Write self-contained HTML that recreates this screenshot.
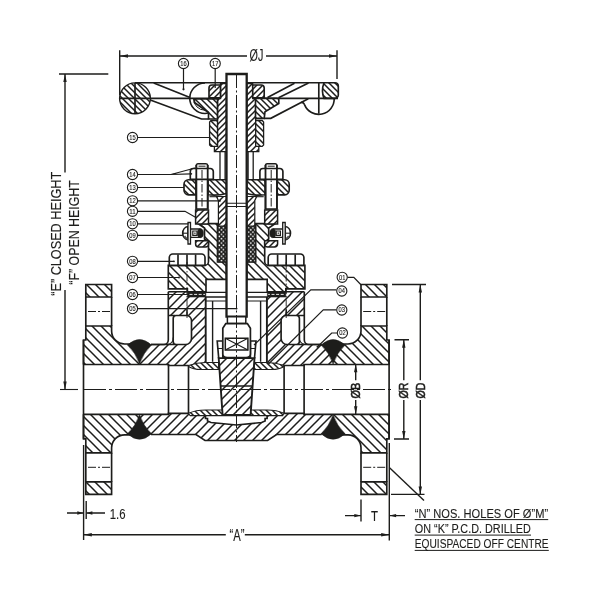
<!DOCTYPE html>
<html><head><meta charset="utf-8"><title>Gate valve</title>
<style>html,body{margin:0;padding:0;background:#fff}svg{display:block}text{font-family:"Liberation Sans",sans-serif;fill:#1d1d1b;stroke:#1d1d1b;stroke-width:0.12px}</style>
</head><body>
<svg width="600" height="600" viewBox="0 0 600 600" style="will-change:transform">
<rect width="600" height="600" fill="#fff"/>

<defs>
<pattern id="hA" patternUnits="userSpaceOnUse" width="9" height="9"><path d="M-2,11 L11,-2 M-2,2 L2,-2 M7,11 L11,7" stroke="#1d1d1b" stroke-width="1.5" fill="none"/></pattern>
<pattern id="hB" patternUnits="userSpaceOnUse" width="9" height="9"><path d="M-2,-2 L11,11 M-2,7 L2,11 M7,-2 L11,2" stroke="#1d1d1b" stroke-width="1.5" fill="none"/></pattern>
<pattern id="hA2" patternUnits="userSpaceOnUse" width="6" height="6"><path d="M-1,7 L7,-1 M-1,1 L1,-1 M5,7 L7,5" stroke="#1d1d1b" stroke-width="1.5" fill="none"/></pattern>
<pattern id="hB2" patternUnits="userSpaceOnUse" width="6" height="6"><path d="M-1,-1 L7,7 M-1,5 L1,7 M5,-1 L7,1" stroke="#1d1d1b" stroke-width="1.5" fill="none"/></pattern>
<pattern id="hB3" patternUnits="userSpaceOnUse" width="8" height="8"><path d="M-2,-2 L10,10 M-2,6 L2,10 M6,-2 L10,2" stroke="#1d1d1b" stroke-width="1.5" fill="none"/></pattern>
<pattern id="hA3" patternUnits="userSpaceOnUse" width="8" height="8"><path d="M-2,10 L10,-2 M-2,2 L2,-2 M6,10 L10,6" stroke="#1d1d1b" stroke-width="1.35" fill="none"/></pattern>
<pattern id="hB5" patternUnits="userSpaceOnUse" width="6" height="6"><path d="M-1,-1 L7,7 M-1,5 L1,7 M5,-1 L7,1" stroke="#1d1d1b" stroke-width="1.5" fill="none"/></pattern>
<pattern id="pk" patternUnits="userSpaceOnUse" width="4.2" height="4.4" patternTransform="translate(217.4 226.6)"><rect width="4.2" height="4.4" fill="#1d1d1b"/><circle cx="1.9" cy="1.1" r="0.85" fill="#fff"/><circle cx="4" cy="3.3" r="0.85" fill="#fff"/><circle cx="-0.2" cy="3.3" r="0.85" fill="#fff"/></pattern>
</defs>
<path d="M85.8,284.5 H111.6 V297 H85.8 Z" fill="#fff" stroke="none" stroke-width="1.65" />
<path d="M85.8,284.5 H111.6 V297 H85.8 Z" fill="url(#hB)" stroke="#1d1d1b" stroke-width="1.65" />
<path d="M 85.8 494.3 H 111.6 V 481.8 H 85.8 Z" fill="#fff" stroke="none" stroke-width="1.65" />
<path d="M 85.8 494.3 H 111.6 V 481.8 H 85.8 Z" fill="url(#hB)" stroke="#1d1d1b" stroke-width="1.65" />
<path d="M 386.8 284.5 H 361 V 297 H 386.8 Z" fill="#fff" stroke="none" stroke-width="1.65" />
<path d="M 386.8 284.5 H 361 V 297 H 386.8 Z" fill="url(#hB)" stroke="#1d1d1b" stroke-width="1.65" />
<path d="M 386.8 494.3 H 361 V 481.8 H 386.8 Z" fill="#fff" stroke="none" stroke-width="1.65" />
<path d="M 386.8 494.3 H 361 V 481.8 H 386.8 Z" fill="url(#hB)" stroke="#1d1d1b" stroke-width="1.65" />
<path d="M85.8,297 V326 M111.6,297 V326" fill="none" stroke="#1d1d1b" stroke-width="1.65" />
<path d="M 85.8 481.8 V 452.8 M 111.6 481.8 V 452.8" fill="none" stroke="#1d1d1b" stroke-width="1.65" />
<path d="M 386.8 297 V 326 M 361 297 V 326" fill="none" stroke="#1d1d1b" stroke-width="1.65" />
<path d="M 386.8 481.8 V 452.8 M 361 481.8 V 452.8" fill="none" stroke="#1d1d1b" stroke-width="1.65" />
<path d="M85.8,326 H111.6 V331 A13,13 0 0 0 124.6,344 H139.5 V364.5 H83.5 V340 H85.8 Z" fill="#fff" stroke="none" stroke-width="1.65" />
<path d="M85.8,326 H111.6 V331 A13,13 0 0 0 124.6,344 H139.5 V364.5 H83.5 V340 H85.8 Z" fill="url(#hB)" stroke="none" stroke-width="1.65" />
<path d="M 85.8 452.8 H 111.6 V 447.8 A 13 13 0 0 1 124.6 434.8 H 139.5 V 414.3 H 83.5 V 438.8 H 85.8 Z" fill="#fff" stroke="none" stroke-width="1.65" />
<path d="M 85.8 452.8 H 111.6 V 447.8 A 13 13 0 0 1 124.6 434.8 H 139.5 V 414.3 H 83.5 V 438.8 H 85.8 Z" fill="url(#hB)" stroke="none" stroke-width="1.65" />
<path d="M 386.8 326 H 361 V 331 A 13 13 0 0 1 348 344 H 333.1 V 364.5 H 389.1 V 340 H 386.8 Z" fill="#fff" stroke="none" stroke-width="1.65" />
<path d="M 386.8 326 H 361 V 331 A 13 13 0 0 1 348 344 H 333.1 V 364.5 H 389.1 V 340 H 386.8 Z" fill="url(#hB)" stroke="none" stroke-width="1.65" />
<path d="M 386.8 452.8 H 361 V 447.8 A 13 13 0 0 0 348 434.8 H 333.1 V 414.3 H 389.1 V 438.8 H 386.8 Z" fill="#fff" stroke="none" stroke-width="1.65" />
<path d="M 386.8 452.8 H 361 V 447.8 A 13 13 0 0 0 348 434.8 H 333.1 V 414.3 H 389.1 V 438.8 H 386.8 Z" fill="url(#hB)" stroke="none" stroke-width="1.65" />
<path d="M83.5,364.5 V340 H85.8 V326 H111.6 V331 A13,13 0 0 0 124.6,344 H139.5" fill="none" stroke="#1d1d1b" stroke-width="1.65" />
<path d="M 83.5 414.3 V 438.8 H 85.8 V 452.8 H 111.6 V 447.8 A 13 13 0 0 1 124.6 434.8 H 139.5" fill="none" stroke="#1d1d1b" stroke-width="1.65" />
<path d="M 389.1 364.5 V 340 H 386.8 V 326 H 361 V 331 A 13 13 0 0 1 348 344 H 333.1" fill="none" stroke="#1d1d1b" stroke-width="1.65" />
<path d="M 389.1 414.3 V 438.8 H 386.8 V 452.8 H 361 V 447.8 A 13 13 0 0 0 348 434.8 H 333.1" fill="none" stroke="#1d1d1b" stroke-width="1.65" />
<path d="M83.5,340 V438.8" fill="none" stroke="#1d1d1b" stroke-width="1.65" />
<path d="M 389.1 340 V 438.8" fill="none" stroke="#1d1d1b" stroke-width="1.65" />
<path d="M139.5,344.5 H185.5 A6,6 0 0 0 191.5,338.5 V320.5 A5,5 0 0 0 186.5,315.5 H168.3 V291.7 H187.4 V297 H205.5 V362.5 L188.5,365.5 H168.5 V364.5 H139.5 Z" fill="#fff" stroke="none" stroke-width="1.65" />
<path d="M139.5,344.5 H185.5 A6,6 0 0 0 191.5,338.5 V320.5 A5,5 0 0 0 186.5,315.5 H168.3 V291.7 H187.4 V297 H205.5 V362.5 L188.5,365.5 H168.5 V364.5 H139.5 Z" fill="url(#hA)" stroke="none" stroke-width="1.65" />
<path d="M 333.1 344.5 H 287.1 A 6 6 0 0 1 281.1 338.5 V 320.5 A 5 5 0 0 1 286.1 315.5 H 304.3 V 291.7 H 285.2 V 297 H 267.1 V 362.5 L 284.1 365.5 H 304.1 V 364.5 H 333.1 Z" fill="#fff" stroke="none" stroke-width="1.65" />
<path d="M 333.1 344.5 H 287.1 A 6 6 0 0 1 281.1 338.5 V 320.5 A 5 5 0 0 1 286.1 315.5 H 304.3 V 291.7 H 285.2 V 297 H 267.1 V 362.5 L 284.1 365.5 H 304.1 V 364.5 H 333.1 Z" fill="url(#hA)" stroke="none" stroke-width="1.65" />
<path d="M151,344.5 H185.5 A6,6 0 0 0 191.5,338.5 V320.5 A5,5 0 0 0 186.5,315.5 H176 A3,3 0 0 0 173.2,318.5 V341.5 A3,3 0 0 0 176.2,344.5" fill="none" stroke="#1d1d1b" stroke-width="1.65" />
<path d="M 321.6 344.5 H 287.1 A 6 6 0 0 1 281.1 338.5 V 320.5 A 5 5 0 0 1 286.1 315.5 H 296.6 A 3 3 0 0 1 299.4 318.5 V 341.5 A 3 3 0 0 1 296.4 344.5" fill="none" stroke="#1d1d1b" stroke-width="1.65" />
<path d="M168.3,291.7 V340 A4.5,4.5 0 0 1 163.8,344.5 H151" fill="none" stroke="#1d1d1b" stroke-width="1.65" />
<path d="M 304.3 291.7 V 340 A 4.5 4.5 0 0 0 308.8 344.5 H 321.6" fill="none" stroke="#1d1d1b" stroke-width="1.65" />
<path d="M173.2,337.5 A6,6 0 0 1 168,344.3" fill="none" stroke="#1d1d1b" stroke-width="1.2" />
<path d="M 299.4 337.5 A 6 6 0 0 0 304.6 344.3" fill="none" stroke="#1d1d1b" stroke-width="1.2" />
<path d="M168.3,315.5 H175 M168.3,291.7 H187.4" fill="none" stroke="#1d1d1b" stroke-width="1.65" />
<path d="M 304.3 315.5 H 297.6 M 304.3 291.7 H 285.2" fill="none" stroke="#1d1d1b" stroke-width="1.65" />
<path d="M205.7,297 V362.5" fill="none" stroke="#1d1d1b" stroke-width="1.9" />
<path d="M 266.9 297 V 362.5" fill="none" stroke="#1d1d1b" stroke-width="1.9" />
<path d="M139.5,414.3 H168.5 V413.3 H188.5 L190,415.5 H205.5 V418.5 H207.5 V421 L211,422.5 L236.4,425 V440.5 H205 L196,434.5 H139.5 Z" fill="#fff" stroke="none" stroke-width="1.65" />
<path d="M139.5,414.3 H168.5 V413.3 H188.5 L190,415.5 H205.5 V418.5 H207.5 V421 L211,422.5 L236.4,425 V440.5 H205 L196,434.5 H139.5 Z" fill="url(#hA)" stroke="none" stroke-width="1.65" />
<path d="M 333.1 414.3 H 304.1 V 413.3 H 284.1 L 282.6 415.5 H 267.1 V 418.5 H 265.1 V 421 L 261.6 422.5 L 236.2 425 V 440.5 H 267.6 L 276.6 434.5 H 333.1 Z" fill="#fff" stroke="none" stroke-width="1.65" />
<path d="M 333.1 414.3 H 304.1 V 413.3 H 284.1 L 282.6 415.5 H 267.1 V 418.5 H 265.1 V 421 L 261.6 422.5 L 236.2 425 V 440.5 H 267.6 L 276.6 434.5 H 333.1 Z" fill="url(#hA)" stroke="none" stroke-width="1.65" />
<path d="M151,434.5 H196 L205,440.5 H236.5" fill="none" stroke="#1d1d1b" stroke-width="1.65" />
<path d="M 321.6 434.5 H 276.6 L 267.6 440.5 H 236.1" fill="none" stroke="#1d1d1b" stroke-width="1.65" />
<path d="M205.5,415.5 V418.5 H207.5 V421 L211,422.5 L236.5,425" fill="none" stroke="#1d1d1b" stroke-width="1.65" />
<path d="M 267.1 415.5 V 418.5 H 265.1 V 421 L 261.6 422.5 L 236.1 425" fill="none" stroke="#1d1d1b" stroke-width="1.65" />
<path d="M190,415.5 H283.2" fill="none" stroke="#1d1d1b" stroke-width="1.7" />
<path d="M188.5,413.3 Q196,410 205.5,410 H222.6 V415.5 H190 Z" fill="#fff" stroke="none" stroke-width="1.65" />
<path d="M188.5,413.3 Q196,410 205.5,410 H222.6 V415.5 H190 Z" fill="url(#hB2)" stroke="#1d1d1b" stroke-width="1.1" />
<path d="M 284.1 413.3 Q 276.6 410 267.1 410 H 250 V 415.5 H 282.6 Z" fill="#fff" stroke="none" stroke-width="1.65" />
<path d="M 284.1 413.3 Q 276.6 410 267.1 410 H 250 V 415.5 H 282.6 Z" fill="url(#hB2)" stroke="#1d1d1b" stroke-width="1.1" />
<path d="M188.5,365.5 Q197,362.5 205.5,362.5 H218.6 V369.5 H201 Q193,369.5 188.5,366.5 Z" fill="#fff" stroke="none" stroke-width="1.65" />
<path d="M188.5,365.5 Q197,362.5 205.5,362.5 H218.6 V369.5 H201 Q193,369.5 188.5,366.5 Z" fill="url(#hB2)" stroke="#1d1d1b" stroke-width="1.1" />
<path d="M 284.1 365.5 Q 275.6 362.5 267.1 362.5 H 254 V 369.5 H 271.6 Q 279.6 369.5 284.1 366.5 Z" fill="#fff" stroke="none" stroke-width="1.65" />
<path d="M 284.1 365.5 Q 275.6 362.5 267.1 362.5 H 254 V 369.5 H 271.6 Q 279.6 369.5 284.1 366.5 Z" fill="url(#hB2)" stroke="#1d1d1b" stroke-width="1.1" />
<path d="M83.5,364.5 H168.5 V365.5 H188.5" fill="none" stroke="#1d1d1b" stroke-width="1.65" />
<path d="M 83.5 414.3 H 168.5 V 413.3 H 188.5" fill="none" stroke="#1d1d1b" stroke-width="1.65" />
<path d="M 389.1 364.5 H 304.1 V 365.5 H 284.1" fill="none" stroke="#1d1d1b" stroke-width="1.65" />
<path d="M 389.1 414.3 H 304.1 V 413.3 H 284.1" fill="none" stroke="#1d1d1b" stroke-width="1.65" />
<path d="M168.5,364.5 V414.3 M188.5,365.5 V413.3" fill="none" stroke="#1d1d1b" stroke-width="1.65" />
<path d="M 304.1 364.5 V 414.3 M 284.1 365.5 V 413.3" fill="none" stroke="#1d1d1b" stroke-width="1.65" />
<path d="M127.5,345 Q139.5,334 151.5,345 Q143.5,352.5 139.5,364 Q135.5,352.5 127.5,345 Z" fill="#1d1d1b" stroke="#1d1d1b" stroke-width="0.5" />
<path d="M 127.5 433.8 Q 139.5 444.8 151.5 433.8 Q 143.5 426.3 139.5 414.8 Q 135.5 426.3 127.5 433.8 Z" fill="#1d1d1b" stroke="#1d1d1b" stroke-width="0.5" />
<path d="M 345.1 345 Q 333.1 334 321.1 345 Q 329.1 352.5 333.1 364 Q 337.1 352.5 345.1 345 Z" fill="#1d1d1b" stroke="#1d1d1b" stroke-width="0.5" />
<path d="M 345.1 433.8 Q 333.1 444.8 321.1 433.8 Q 329.1 426.3 333.1 414.8 Q 337.1 426.3 345.1 433.8 Z" fill="#1d1d1b" stroke="#1d1d1b" stroke-width="0.5" />
<path d="M168.3,265.4 H204.5 A4,4 0 0 0 208.5,261.4 V242 L204.5,239 V228 L198,223.6 H217.5 V262 H226.5 V279.4 H206 V291.7 H187.4 V288.8 H168.3 Z" fill="#fff" stroke="none" stroke-width="1.65" />
<path d="M168.3,265.4 H204.5 A4,4 0 0 0 208.5,261.4 V242 L204.5,239 V228 L198,223.6 H217.5 V262 H226.5 V279.4 H206 V291.7 H187.4 V288.8 H168.3 Z" fill="url(#hB3)" stroke="#1d1d1b" stroke-width="1.65" />
<path d="M 304.9 265.4 H 268.7 A 4 4 0 0 1 264.7 261.4 V 242 L 268.7 239 V 228 L 275.2 223.6 H 255.7 V 262 H 246.7 V 279.4 H 267.2 V 291.7 H 285.8 V 288.8 H 304.9 Z" fill="#fff" stroke="none" stroke-width="1.65" />
<path d="M 304.9 265.4 H 268.7 A 4 4 0 0 1 264.7 261.4 V 242 L 268.7 239 V 228 L 275.2 223.6 H 255.7 V 262 H 246.7 V 279.4 H 267.2 V 291.7 H 285.8 V 288.8 H 304.9 Z" fill="url(#hB3)" stroke="#1d1d1b" stroke-width="1.65" />
<path d="M187.4,291.9 H205.8 V297 H187.4 Z" fill="#1d1d1b" stroke="#1d1d1b" stroke-width="0.6" />
<path d="M 285.8 291.9 H 267.4 V 297 H 285.8 Z" fill="#1d1d1b" stroke="#1d1d1b" stroke-width="0.6" />
<path d="M189.5,294.4 H205" fill="none" stroke="#fff" stroke-width="0.9" stroke-dasharray="3 1.6"/>
<path d="M 283.7 294.4 H 268.2" fill="none" stroke="#fff" stroke-width="0.9" stroke-dasharray="3 1.6"/>
<path d="M205.5,292.3 H267.7 M205.5,301 H267.7" fill="none" stroke="#1d1d1b" stroke-width="1.2" />
<path d="M205.5,297 H267.7" fill="none" stroke="#1d1d1b" stroke-width="1.7" />
<path d="M212.6,301 V361.8" fill="none" stroke="#1d1d1b" stroke-width="1.4" />
<path d="M 260.6 301 V 361.8" fill="none" stroke="#1d1d1b" stroke-width="1.4" />
<path d="M169.3,265.4 V257.5 A3.5,3.5 0 0 1 172.8,254 H201.5 A3.5,3.5 0 0 1 205,257.5 V265.4 Z" fill="#fff" stroke="#1d1d1b" stroke-width="1.65" />
<path d="M 303.9 265.4 V 257.5 A 3.5 3.5 0 0 0 300.4 254 H 271.7 A 3.5 3.5 0 0 0 268.2 257.5 V 265.4 Z" fill="#fff" stroke="#1d1d1b" stroke-width="1.65" />
<path d="M178,254.5 V265 M187,254.5 V265 M195.6,254.5 V265" fill="none" stroke="#1d1d1b" stroke-width="1.65" />
<path d="M 295.2 254.5 V 265 M 286.2 254.5 V 265 M 277.6 254.5 V 265" fill="none" stroke="#1d1d1b" stroke-width="1.65" />
<path d="M187,262 V318" fill="none" stroke="#1d1d1b" stroke-width="0.9" stroke-dasharray="7 2 1.5 2"/>
<path d="M 286.2 262 V 318" fill="none" stroke="#1d1d1b" stroke-width="0.9" stroke-dasharray="7 2 1.5 2"/>
<path d="M187,309.5 V315.5" fill="none" stroke="#1d1d1b" stroke-width="1.6" />
<path d="M 286.2 309.5 V 315.5" fill="none" stroke="#1d1d1b" stroke-width="1.6" />
<path d="M218.7,358 H254.5 L250.6,415 H222.6 Z" fill="#fff" stroke="none" stroke-width="1.65" />
<path d="M218.7,358 H254.5 L250.6,415 H222.6 Z" fill="url(#hA)" stroke="#1d1d1b" stroke-width="1.9" />
<path d="M217.2,341 H222.8 V358 H218.7 Z" fill="#fff" stroke="#1d1d1b" stroke-width="1.65" />
<path d="M 256 341 H 250.4 V 358 H 254.5 Z" fill="#fff" stroke="#1d1d1b" stroke-width="1.65" />
<path d="M217.8,348.5 H223" fill="none" stroke="#1d1d1b" stroke-width="1" />
<path d="M 255.4 348.5 H 250.2" fill="none" stroke="#1d1d1b" stroke-width="1" />
<path d="M220.6,386 H252.6" fill="none" stroke="#1d1d1b" stroke-width="1.65" />
<path d="M217.8,226 H226.5 V262 H217.8 Z" fill="url(#pk)" stroke="#1d1d1b" stroke-width="0.8" />
<path d="M 255.4 226 H 246.7 V 262 H 255.4 Z" fill="url(#pk)" stroke="#1d1d1b" stroke-width="0.8" />
<path d="M216.5,196.5 H226.5 V226 H218.4 V200.5 Z" fill="#fff" stroke="none" stroke-width="1.65" />
<path d="M216.5,196.5 H226.5 V226 H218.4 V200.5 Z" fill="url(#hA2)" stroke="#1d1d1b" stroke-width="1.2" />
<path d="M 256.7 196.5 H 246.7 V 226 H 254.8 V 200.5 Z" fill="#fff" stroke="none" stroke-width="1.65" />
<path d="M 256.7 196.5 H 246.7 V 226 H 254.8 V 200.5 Z" fill="url(#hA2)" stroke="#1d1d1b" stroke-width="1.2" />
<path d="M209.5,196.7 H218" fill="none" stroke="#1d1d1b" stroke-width="1.1" />
<path d="M 263.7 196.7 H 255.2" fill="none" stroke="#1d1d1b" stroke-width="1.1" />
<path d="M196,179.7 H188.5 A4.5,4.5 0 0 0 184,184.2 V190.3 A4.5,4.5 0 0 0 188.5,194.8 H196 Z" fill="#fff" stroke="none" stroke-width="1.65" />
<path d="M196,179.7 H188.5 A4.5,4.5 0 0 0 184,184.2 V190.3 A4.5,4.5 0 0 0 188.5,194.8 H196 Z" fill="url(#hB2)" stroke="#1d1d1b" stroke-width="1.65" />
<path d="M 277.2 179.7 H 284.7 A 4.5 4.5 0 0 1 289.2 184.2 V 190.3 A 4.5 4.5 0 0 1 284.7 194.8 H 277.2 Z" fill="#fff" stroke="none" stroke-width="1.65" />
<path d="M 277.2 179.7 H 284.7 A 4.5 4.5 0 0 1 289.2 184.2 V 190.3 A 4.5 4.5 0 0 1 284.7 194.8 H 277.2 Z" fill="url(#hB2)" stroke="#1d1d1b" stroke-width="1.65" />
<path d="M208,179.7 H226.5 V193.5 Q218,196 208,194.8 Z" fill="#fff" stroke="none" stroke-width="1.65" />
<path d="M208,179.7 H226.5 V193.5 Q218,196 208,194.8 Z" fill="url(#hB2)" stroke="#1d1d1b" stroke-width="1.65" />
<path d="M 265.2 179.7 H 246.7 V 193.5 Q 255.2 196 265.2 194.8 Z" fill="#fff" stroke="none" stroke-width="1.65" />
<path d="M 265.2 179.7 H 246.7 V 193.5 Q 255.2 196 265.2 194.8 Z" fill="url(#hB2)" stroke="#1d1d1b" stroke-width="1.65" />
<path d="M196,179.7 H208 M196,194.8 H208" fill="none" stroke="#1d1d1b" stroke-width="1.65" />
<path d="M 277.2 179.7 H 265.2 M 277.2 194.8 H 265.2" fill="none" stroke="#1d1d1b" stroke-width="1.65" />
<path d="M196.3,209 V165.5 A1.7,1.7 0 0 1 198,163.8 H206 A1.7,1.7 0 0 1 207.7,165.5 V209 Z" fill="#fff" stroke="#1d1d1b" stroke-width="1.6" />
<path d="M 276.9 209 V 165.5 A 1.7 1.7 0 0 0 275.2 163.8 H 267.2 A 1.7 1.7 0 0 0 265.5 165.5 V 209 Z" fill="#fff" stroke="#1d1d1b" stroke-width="1.6" />
<path d="M190.3,179.4 V171.5 A3,3 0 0 1 193.3,168.5 H210.3 A3,3 0 0 1 213.3,171.5 V179.4 Z" fill="#fff" stroke="#1d1d1b" stroke-width="1.65" />
<path d="M 282.9 179.4 V 171.5 A 3 3 0 0 0 279.9 168.5 H 262.9 A 3 3 0 0 0 259.9 171.5 V 179.4 Z" fill="#fff" stroke="#1d1d1b" stroke-width="1.65" />
<path d="M196.3,165 V209 M207.7,165 V209" fill="none" stroke="#1d1d1b" stroke-width="1.8" />
<path d="M 276.9 165 V 209 M 265.5 165 V 209" fill="none" stroke="#1d1d1b" stroke-width="1.8" />
<path d="M198.5,166.2 H205.5" fill="none" stroke="#1d1d1b" stroke-width="1" />
<path d="M 274.7 166.2 H 267.7" fill="none" stroke="#1d1d1b" stroke-width="1" />
<path d="M202,170 V208" fill="none" stroke="#1d1d1b" stroke-width="1" stroke-dasharray="8.5 2 1.5 2"/>
<path d="M 271.2 170 V 208" fill="none" stroke="#1d1d1b" stroke-width="1" stroke-dasharray="8.5 2 1.5 2"/>
<path d="M195.6,210 H208.5 V224 H195.6 Z" fill="#fff" stroke="none" stroke-width="1.65" />
<path d="M195.6,210 H208.5 V224 H195.6 Z" fill="url(#hA2)" stroke="#1d1d1b" stroke-width="1.5" />
<path d="M 277.6 210 H 264.7 V 224 H 277.6 Z" fill="#fff" stroke="none" stroke-width="1.65" />
<path d="M 277.6 210 H 264.7 V 224 H 277.6 Z" fill="url(#hA2)" stroke="#1d1d1b" stroke-width="1.5" />
<path d="M195.6,240.7 H208.5 V244 A3,3 0 0 1 205.5,247 H198.6 A3,3 0 0 1 195.6,244 Z" fill="#fff" stroke="none" stroke-width="1.65" />
<path d="M195.6,240.7 H208.5 V244 A3,3 0 0 1 205.5,247 H198.6 A3,3 0 0 1 195.6,244 Z" fill="url(#hA2)" stroke="#1d1d1b" stroke-width="1.5" />
<path d="M 277.6 240.7 H 264.7 V 244 A 3 3 0 0 0 267.7 247 H 274.6 A 3 3 0 0 0 277.6 244 Z" fill="#fff" stroke="none" stroke-width="1.65" />
<path d="M 277.6 240.7 H 264.7 V 244 A 3 3 0 0 0 267.7 247 H 274.6 A 3 3 0 0 0 277.6 244 Z" fill="url(#hA2)" stroke="#1d1d1b" stroke-width="1.5" />
<path d="M190.5,229 H200 V237.4 H190.5 Z" fill="#fff" stroke="#1d1d1b" stroke-width="1.3" />
<path d="M 282.7 229 H 273.2 V 237.4 H 282.7 Z" fill="#fff" stroke="#1d1d1b" stroke-width="1.3" />
<path d="M197.4,233.2 A3,4.5 0 0 1 203.4,233.2 A3,4.5 0 0 1 197.4,233.2 Z" fill="#1d1d1b" stroke="#1d1d1b" stroke-width="0.5" />
<path d="M 275.8 233.2 A 3 4.5 0 0 0 269.8 233.2 A 3 4.5 0 0 0 275.8 233.2 Z" fill="#1d1d1b" stroke="#1d1d1b" stroke-width="0.5" />
<path d="M192.8,231 H197 V235.4 H192.8 Z" fill="#fff" stroke="#1d1d1b" stroke-width="1.2" />
<path d="M 280.4 231 H 276.2 V 235.4 H 280.4 Z" fill="#fff" stroke="#1d1d1b" stroke-width="1.2" />
<path d="M194.4,232.7 H195.4 V233.7 H194.4 Z" fill="#1d1d1b" stroke="#1d1d1b" stroke-width="0.3" />
<path d="M 278.8 232.7 H 277.8 V 233.7 H 278.8 Z" fill="#1d1d1b" stroke="#1d1d1b" stroke-width="0.3" />
<path d="M188,226.5 A6,6.7 0 0 0 188,239.8 Z" fill="#fff" stroke="#1d1d1b" stroke-width="1.7" />
<path d="M 285.2 226.5 A 6 6.7 0 0 1 285.2 239.8 Z" fill="#fff" stroke="#1d1d1b" stroke-width="1.7" />
<path d="M182.2,233.2 H188" fill="none" stroke="#1d1d1b" stroke-width="1.1" />
<path d="M 291 233.2 H 285.2" fill="none" stroke="#1d1d1b" stroke-width="1.1" />
<path d="M184.5,236 Q186,238.5 188,239" fill="none" stroke="#555" stroke-width="1.6" />
<path d="M 288.7 236 Q 287.2 238.5 285.2 239" fill="none" stroke="#555" stroke-width="1.6" />
<path d="M188,222.5 H190.5 V244 H188 Z" fill="#fff" stroke="#1d1d1b" stroke-width="1.3" />
<path d="M 285.2 222.5 H 282.7 V 244 H 285.2 Z" fill="#fff" stroke="#1d1d1b" stroke-width="1.3" />
<path d="M220.5,83.5 H226.5 V151.6 H214.4 V146.4 H217.5 V98.5 H220.5 Z" fill="#fff" stroke="none" stroke-width="1.65" />
<path d="M220.5,83.5 H226.5 V151.6 H214.4 V146.4 H217.5 V98.5 H220.5 Z" fill="url(#hA2)" stroke="#1d1d1b" stroke-width="1.3" />
<path d="M 252.7 83.5 H 246.7 V 151.6 H 258.8 V 146.4 H 255.7 V 98.5 H 252.7 Z" fill="#fff" stroke="none" stroke-width="1.65" />
<path d="M 252.7 83.5 H 246.7 V 151.6 H 258.8 V 146.4 H 255.7 V 98.5 H 252.7 Z" fill="url(#hA2)" stroke="#1d1d1b" stroke-width="1.3" />
<path d="M211,120.5 H217.5 V146.4 H211 L209.6,145 V122 Z" fill="#fff" stroke="none" stroke-width="1.65" />
<path d="M211,120.5 H217.5 V146.4 H211 L209.6,145 V122 Z" fill="url(#hB2)" stroke="#1d1d1b" stroke-width="1.3" />
<path d="M 262.2 120.5 H 255.7 V 146.4 H 262.2 L 263.6 145 V 122 Z" fill="#fff" stroke="none" stroke-width="1.65" />
<path d="M 262.2 120.5 H 255.7 V 146.4 H 262.2 L 263.6 145 V 122 Z" fill="url(#hB2)" stroke="#1d1d1b" stroke-width="1.3" />
<path d="M220,151.6 V180 M225.1,151.6 V180" fill="none" stroke="#1d1d1b" stroke-width="1.3" />
<path d="M 253.2 151.6 V 180 M 248.1 151.6 V 180" fill="none" stroke="#1d1d1b" stroke-width="1.3" />
<circle cx="135" cy="98.3" r="15.4" fill="#fff"/>
<circle cx="135" cy="98.3" r="15.4" fill="url(#hB5)" stroke="#1d1d1b" stroke-width="1.4"/>
<path d="M135,82.9 V113.7 M119.6,98.4 H218" fill="none" stroke="#1d1d1b" stroke-width="1.65" />
<path d="M135,82.7 H226.5 M246.7,82.7 H335" fill="none" stroke="#1d1d1b" stroke-width="1.65" />
<path d="M153.7,83 L190,97.5 M150.3,100 L201.5,119 H208.5" fill="none" stroke="#1d1d1b" stroke-width="1.65" />
<path d="M205,83 A15.2,15.2 0 0 0 205,113.5 L208.5,113" fill="none" stroke="#1d1d1b" stroke-width="1.65" />
<path d="M193.5,99 A11.5,11.5 0 0 0 205,110.2" fill="none" stroke="#1d1d1b" stroke-width="1" />
<path d="M220.5,85 H212 A3,3 0 0 0 209,88 V97.7 H220.5 Z" fill="#fff" stroke="none" stroke-width="1.65" />
<path d="M220.5,85 H212 A3,3 0 0 0 209,88 V97.7 H220.5 Z" fill="url(#hA2)" stroke="#1d1d1b" stroke-width="1.65" />
<path d="M 252.7 85 H 261.2 A 3 3 0 0 1 264.2 88 V 97.7 H 252.7 Z" fill="#fff" stroke="none" stroke-width="1.65" />
<path d="M 252.7 85 H 261.2 A 3 3 0 0 1 264.2 88 V 97.7 H 252.7 Z" fill="url(#hA2)" stroke="#1d1d1b" stroke-width="1.65" />
<path d="M194.5,99 H217.5 V119 H208.5 V112.5 L194.5,102.5 Z" fill="#fff" stroke="none" stroke-width="1.65" />
<path d="M194.5,99 H217.5 V119 H208.5 V112.5 L194.5,102.5 Z" fill="url(#hB2)" stroke="#1d1d1b" stroke-width="1.65" />
<path d="M324,82.7 H335 A3.3,3.3 0 0 1 338.3,86 V95.1 A3.3,3.3 0 0 1 335,98.4 H324 Q321,90.5 324,82.7 Z" fill="#fff" stroke="none" stroke-width="1.65" />
<path d="M324,82.7 H335 A3.3,3.3 0 0 1 338.3,86 V95.1 A3.3,3.3 0 0 1 335,98.4 H324 Q321,90.5 324,82.7 Z" fill="url(#hB5)" stroke="#1d1d1b" stroke-width="1.65" />
<path d="M318.8,82.7 V113.8 M255.7,98.4 H338" fill="none" stroke="#1d1d1b" stroke-width="1.65" />
<path d="M301,102.5 Q303.6,102 304.5,104.6 A15.4,15.4 0 0 0 334.2,98.4" fill="none" stroke="#1d1d1b" stroke-width="1.65" />
<path d="M267.5,97.5 L294.5,83.2 M278.5,97.8 L308.5,83" fill="none" stroke="#1d1d1b" stroke-width="1.65" />
<path d="M255.5,98.4 H277 Q278.8,98.4 278.8,100 V103.5 L265,111.7 L264.2,118.3 H255.5 Z" fill="#fff" stroke="none" stroke-width="1.65" />
<path d="M255.5,98.4 H277 Q278.8,98.4 278.8,100 V103.5 L265,111.7 L264.2,118.3 H255.5 Z" fill="url(#hB5)" stroke="#1d1d1b" stroke-width="1.65" />
<path d="M264.2,118.3 H270.8 L308.3,98.7" fill="none" stroke="#1d1d1b" stroke-width="1.65" />
<path d="M226.5,316.7 V74 H246.7 V316.7 Z" fill="#fff" stroke="#1d1d1b" stroke-width="2.3" />
<path d="M226.5,203.3 H246.7 M226.5,206.5 H246.7" fill="none" stroke="#1d1d1b" stroke-width="1.1" />
<path d="M227.4,316.7 H245.8 V323.4 H227.4 Z" fill="#fff" stroke="#1d1d1b" stroke-width="1.5" />
<path d="M225.8,323.6 H247.4 L250.4,328.3 V354 Q250.4,357.6 246,357.6 H227.2 Q222.8,357.6 222.8,354 V328.3 Z" fill="#fff" stroke="#1d1d1b" stroke-width="1.7" />
<path d="M225.3,338.2 H247.9 V350 H225.3 Z" fill="none" stroke="#1d1d1b" stroke-width="1.5" />
<path d="M225.3,338.2 L247.9,350 M247.9,338.2 L225.3,350" fill="none" stroke="#1d1d1b" stroke-width="1.1" />
<path d="M236.5,75 V442" fill="none" stroke="#1d1d1b" stroke-width="1" stroke-dasharray="13 2.5 2 2.5"/>
<path d="M60,389.5 H78" fill="none" stroke="#1d1d1b" stroke-width="1.1" />
<path d="M84,389.5 H392" fill="none" stroke="#1d1d1b" stroke-width="1.1" stroke-dasharray="22 3 3 3"/>
<path d="M88,311.5 H110" fill="none" stroke="#1d1d1b" stroke-width="1" stroke-dasharray="8 2 2 2"/>
<path d="M 385.2 311.5 H 363.2" fill="none" stroke="#1d1d1b" stroke-width="1" stroke-dasharray="8 2 2 2"/>
<path d="M88,467.3 H110" fill="none" stroke="#1d1d1b" stroke-width="1" stroke-dasharray="8 2 2 2"/>
<path d="M 385.2 467.3 H 363.2" fill="none" stroke="#1d1d1b" stroke-width="1" stroke-dasharray="8 2 2 2"/>
<path d="M119.7,50.3 V95 M337,50.3 V79" fill="none" stroke="#1d1d1b" stroke-width="1.4" />
<path d="M120,56 H247 M266,56 H337" fill="none" stroke="#1d1d1b" stroke-width="1.4" />
<polygon points="120.0,56.0 128.0,54.3 128.0,57.7" fill="#1d1d1b"/>
<polygon points="337.0,56.0 329.0,54.3 329.0,57.7" fill="#1d1d1b"/>
<text x="256.4" y="60.9" text-anchor="middle" font-size="16" textLength="13.8" lengthAdjust="spacingAndGlyphs" >ØJ</text>
<path d="M59,74 H108.3" fill="none" stroke="#1d1d1b" stroke-width="1.4" />
<path d="M65,74 V172.5 M65,290 V389" fill="none" stroke="#1d1d1b" stroke-width="1.4" />
<polygon points="65.0,74.0 63.3,82.0 66.7,82.0" fill="#1d1d1b"/>
<polygon points="65.0,389.5 63.3,381.5 66.7,381.5" fill="#1d1d1b"/>
<text x="61.3" y="233.8" text-anchor="middle" font-size="14" textLength="124" lengthAdjust="spacingAndGlyphs" transform="rotate(-90 61.3 233.8)" stroke-width="0.42" >“E” CLOSED HEIGHT</text>
<text x="79.2" y="232.4" text-anchor="middle" font-size="14" textLength="104.5" lengthAdjust="spacingAndGlyphs" transform="rotate(-90 79.2 232.4)" stroke-width="0.42" >“F” OPEN HEIGHT</text>
<path d="M83.6,445 V540 M86.2,501 V519" fill="none" stroke="#1d1d1b" stroke-width="1.4" />
<path d="M67,513 H83 M86.5,513 H105" fill="none" stroke="#1d1d1b" stroke-width="1.4" />
<polygon points="83.3,513.0 77.3,511.3 77.3,514.7" fill="#1d1d1b"/>
<polygon points="86.4,513.0 92.4,511.3 92.4,514.7" fill="#1d1d1b"/>
<text x="109.8" y="518.8" text-anchor="start" font-size="14.4" textLength="15.8" lengthAdjust="spacingAndGlyphs" >1.6</text>
<path d="M84,534.8 H225.8 M244.8,534.8 H389" fill="none" stroke="#1d1d1b" stroke-width="1.4" />
<polygon points="83.8,534.8 91.8,533.1 91.8,536.5" fill="#1d1d1b"/>
<polygon points="389.2,534.8 381.2,533.1 381.2,536.5" fill="#1d1d1b"/>
<text x="236.9" y="540.9" text-anchor="middle" font-size="16" textLength="15" lengthAdjust="spacingAndGlyphs" >“A”</text>
<path d="M361,499.5 V521.5 M389.3,443 V540.5" fill="none" stroke="#1d1d1b" stroke-width="1.4" />
<path d="M345,515.6 H361 M390,515.6 H405" fill="none" stroke="#1d1d1b" stroke-width="1.4" />
<polygon points="360.8,515.6 354.3,513.9 354.3,517.3" fill="#1d1d1b"/>
<polygon points="389.6,515.6 396.1,513.9 396.1,517.3" fill="#1d1d1b"/>
<text x="374.6" y="520.7" text-anchor="middle" font-size="14" textLength="7" lengthAdjust="spacingAndGlyphs" >T</text>
<path d="M355.7,364.5 V380.2 M355.7,400 V414" fill="none" stroke="#1d1d1b" stroke-width="1.4" />
<polygon points="355.7,364.3 354.0,372.3 357.4,372.3" fill="#1d1d1b"/>
<polygon points="355.7,414.3 354.0,406.3 357.4,406.3" fill="#1d1d1b"/>
<text x="360.1" y="390.6" text-anchor="middle" font-size="13.4" textLength="15.8" lengthAdjust="spacingAndGlyphs" transform="rotate(-90 360.1 390.6)" stroke-width="0.42" style="stroke-width:0.6px">ØB</text>
<path d="M394.5,339.8 H409 M394,439 H409" fill="none" stroke="#1d1d1b" stroke-width="1.4" />
<path d="M403.8,339.8 V380.2 M403.8,400 V439" fill="none" stroke="#1d1d1b" stroke-width="1.4" />
<polygon points="403.8,339.8 402.1,347.8 405.5,347.8" fill="#1d1d1b"/>
<polygon points="403.8,439.0 402.1,431.0 405.5,431.0" fill="#1d1d1b"/>
<text x="408.2" y="390.6" text-anchor="middle" font-size="13.4" textLength="15.8" lengthAdjust="spacingAndGlyphs" transform="rotate(-90 408.2 390.6)" stroke-width="0.42" style="stroke-width:0.6px">ØR</text>
<path d="M392,284.5 H426 M391,494.4 H424.5" fill="none" stroke="#1d1d1b" stroke-width="1.4" />
<path d="M420.3,284.5 V380.2 M420.3,400 V494.4" fill="none" stroke="#1d1d1b" stroke-width="1.4" />
<polygon points="420.3,284.5 418.6,292.5 422.0,292.5" fill="#1d1d1b"/>
<polygon points="420.3,494.4 418.6,486.4 422.0,486.4" fill="#1d1d1b"/>
<text x="424.8" y="390.6" text-anchor="middle" font-size="13.4" textLength="15.8" lengthAdjust="spacingAndGlyphs" transform="rotate(-90 424.8 390.6)" stroke-width="0.42" style="stroke-width:0.6px">ØD</text>
<path d="M389.3,467.4 L424,500.5" fill="none" stroke="#1d1d1b" stroke-width="1.4" />
<text x="414.8" y="517.5" text-anchor="start" font-size="13.4" textLength="133.3" lengthAdjust="spacingAndGlyphs" >“N” NOS. HOLES OF Ø”M”</text>
<text x="414.8" y="533" text-anchor="start" font-size="13.4" textLength="116" lengthAdjust="spacingAndGlyphs" >ON “K” P.C.D. DRILLED</text>
<text x="414.8" y="548.3" text-anchor="start" font-size="13.4" textLength="133.8" lengthAdjust="spacingAndGlyphs" >EQUISPACED OFF CENTRE</text>
<path d="M414.7,519.6 H548.2 M414.7,535.1 H531 M414.7,550.4 H548.8" fill="none" stroke="#1d1d1b" stroke-width="1" />
<path d="M183.5,69 V89" fill="none" stroke="#1d1d1b" stroke-width="1.2" />
<circle cx="183.5" cy="89.3" r="1.1" fill="#1d1d1b"/>
<circle cx="183.5" cy="63.5" r="5.1" fill="#fff" stroke="#1d1d1b" stroke-width="1.1"/>
<text x="183.5" y="65.95" text-anchor="middle" font-size="6.9" textLength="6.4" lengthAdjust="spacingAndGlyphs" stroke-width="0.3">16</text>
<path d="M215.2,69 V88" fill="none" stroke="#1d1d1b" stroke-width="1.2" />
<circle cx="215.2" cy="63.5" r="5.1" fill="#fff" stroke="#1d1d1b" stroke-width="1.1"/>
<text x="215.2" y="65.95" text-anchor="middle" font-size="6.9" textLength="6.4" lengthAdjust="spacingAndGlyphs" stroke-width="0.3">17</text>
<path d="M138,137.5 H210.5" fill="none" stroke="#1d1d1b" stroke-width="1.2" />
<circle cx="132.5" cy="137.5" r="5.1" fill="#fff" stroke="#1d1d1b" stroke-width="1.1"/>
<text x="132.5" y="139.95" text-anchor="middle" font-size="6.9" textLength="6.4" lengthAdjust="spacingAndGlyphs" stroke-width="0.3">15</text>
<path d="M138,174.5 H171 L195,168 M171,174.5 L191,173.8" fill="none" stroke="#1d1d1b" stroke-width="1.2" />
<circle cx="191.3" cy="173.8" r="0.9" fill="#1d1d1b"/>
<circle cx="132.5" cy="174.5" r="5.1" fill="#fff" stroke="#1d1d1b" stroke-width="1.1"/>
<text x="132.5" y="176.95" text-anchor="middle" font-size="6.9" textLength="6.4" lengthAdjust="spacingAndGlyphs" stroke-width="0.3">14</text>
<path d="M138,187.5 H184" fill="none" stroke="#1d1d1b" stroke-width="1.2" />
<circle cx="132.5" cy="187.5" r="5.1" fill="#fff" stroke="#1d1d1b" stroke-width="1.1"/>
<text x="132.5" y="189.95" text-anchor="middle" font-size="6.9" textLength="6.4" lengthAdjust="spacingAndGlyphs" stroke-width="0.3">13</text>
<path d="M138,200.8 H220" fill="none" stroke="#1d1d1b" stroke-width="1.2" />
<circle cx="220" cy="200.8" r="0.9" fill="#1d1d1b"/>
<circle cx="132.5" cy="200.8" r="5.1" fill="#fff" stroke="#1d1d1b" stroke-width="1.1"/>
<text x="132.5" y="203.25" text-anchor="middle" font-size="6.9" textLength="6.4" lengthAdjust="spacingAndGlyphs" stroke-width="0.3">12</text>
<path d="M138,211.3 H185 L196.3,217.7" fill="none" stroke="#1d1d1b" stroke-width="1.2" />
<circle cx="132.5" cy="211.3" r="5.1" fill="#fff" stroke="#1d1d1b" stroke-width="1.1"/>
<text x="132.5" y="213.75" text-anchor="middle" font-size="6.9" textLength="6.4" lengthAdjust="spacingAndGlyphs" stroke-width="0.3">11</text>
<path d="M138,223.8 H188.5" fill="none" stroke="#1d1d1b" stroke-width="1.2" />
<circle cx="132.5" cy="223.8" r="5.1" fill="#fff" stroke="#1d1d1b" stroke-width="1.1"/>
<text x="132.5" y="226.25" text-anchor="middle" font-size="6.9" textLength="6.4" lengthAdjust="spacingAndGlyphs" stroke-width="0.3">10</text>
<path d="M138,235.3 H183" fill="none" stroke="#1d1d1b" stroke-width="1.2" />
<circle cx="132.5" cy="235.3" r="5.1" fill="#fff" stroke="#1d1d1b" stroke-width="1.1"/>
<text x="132.5" y="237.75" text-anchor="middle" font-size="6.9" textLength="6.4" lengthAdjust="spacingAndGlyphs" stroke-width="0.3">09</text>
<path d="M138,261.3 H174" fill="none" stroke="#1d1d1b" stroke-width="1.2" />
<circle cx="174" cy="261.3" r="0.9" fill="#1d1d1b"/>
<circle cx="132.5" cy="261.3" r="5.1" fill="#fff" stroke="#1d1d1b" stroke-width="1.1"/>
<text x="132.5" y="263.75" text-anchor="middle" font-size="6.9" textLength="6.4" lengthAdjust="spacingAndGlyphs" stroke-width="0.3">08</text>
<path d="M138,277.5 H179" fill="none" stroke="#1d1d1b" stroke-width="1.2" />
<circle cx="179" cy="277.5" r="0.9" fill="#1d1d1b"/>
<circle cx="132.5" cy="277.5" r="5.1" fill="#fff" stroke="#1d1d1b" stroke-width="1.1"/>
<text x="132.5" y="279.95" text-anchor="middle" font-size="6.9" textLength="6.4" lengthAdjust="spacingAndGlyphs" stroke-width="0.3">07</text>
<path d="M138,294.5 H188" fill="none" stroke="#1d1d1b" stroke-width="1.2" />
<circle cx="132.5" cy="294.5" r="5.1" fill="#fff" stroke="#1d1d1b" stroke-width="1.1"/>
<text x="132.5" y="296.95" text-anchor="middle" font-size="6.9" textLength="6.4" lengthAdjust="spacingAndGlyphs" stroke-width="0.3">06</text>
<path d="M138,308.6 H236.6" fill="none" stroke="#1d1d1b" stroke-width="1.2" />
<circle cx="236.6" cy="308.6" r="0.9" fill="#1d1d1b"/>
<circle cx="132.5" cy="308.6" r="5.1" fill="#fff" stroke="#1d1d1b" stroke-width="1.1"/>
<text x="132.5" y="311.05" text-anchor="middle" font-size="6.9" textLength="6.4" lengthAdjust="spacingAndGlyphs" stroke-width="0.3">05</text>
<path d="M347.5,277.3 H353.8 L361.2,285" fill="none" stroke="#1d1d1b" stroke-width="1.2" />
<circle cx="342.2" cy="277.3" r="5.1" fill="#fff" stroke="#1d1d1b" stroke-width="1.1"/>
<text x="342.2" y="279.75" text-anchor="middle" font-size="6.9" textLength="6.4" lengthAdjust="spacingAndGlyphs" stroke-width="0.3">01</text>
<path d="M336.3,289.8 H310.8 L254,345" fill="none" stroke="#1d1d1b" stroke-width="1.2" />
<circle cx="341.8" cy="291" r="5.1" fill="#fff" stroke="#1d1d1b" stroke-width="1.1"/>
<text x="341.8" y="293.45" text-anchor="middle" font-size="6.9" textLength="6.4" lengthAdjust="spacingAndGlyphs" stroke-width="0.3">04</text>
<path d="M336.3,309.8 H323.3 L268,364.5" fill="none" stroke="#1d1d1b" stroke-width="1.2" />
<circle cx="341.8" cy="310" r="5.1" fill="#fff" stroke="#1d1d1b" stroke-width="1.1"/>
<text x="341.8" y="312.45" text-anchor="middle" font-size="6.9" textLength="6.4" lengthAdjust="spacingAndGlyphs" stroke-width="0.3">03</text>
<path d="M337,333 H331.7 L317.5,346.7" fill="none" stroke="#1d1d1b" stroke-width="1.2" />
<circle cx="317.5" cy="346.7" r="1" fill="#1d1d1b"/>
<circle cx="342.4" cy="333" r="5.1" fill="#fff" stroke="#1d1d1b" stroke-width="1.1"/>
<text x="342.4" y="335.45" text-anchor="middle" font-size="6.9" textLength="6.4" lengthAdjust="spacingAndGlyphs" stroke-width="0.3">02</text>
</svg>
</body></html>
